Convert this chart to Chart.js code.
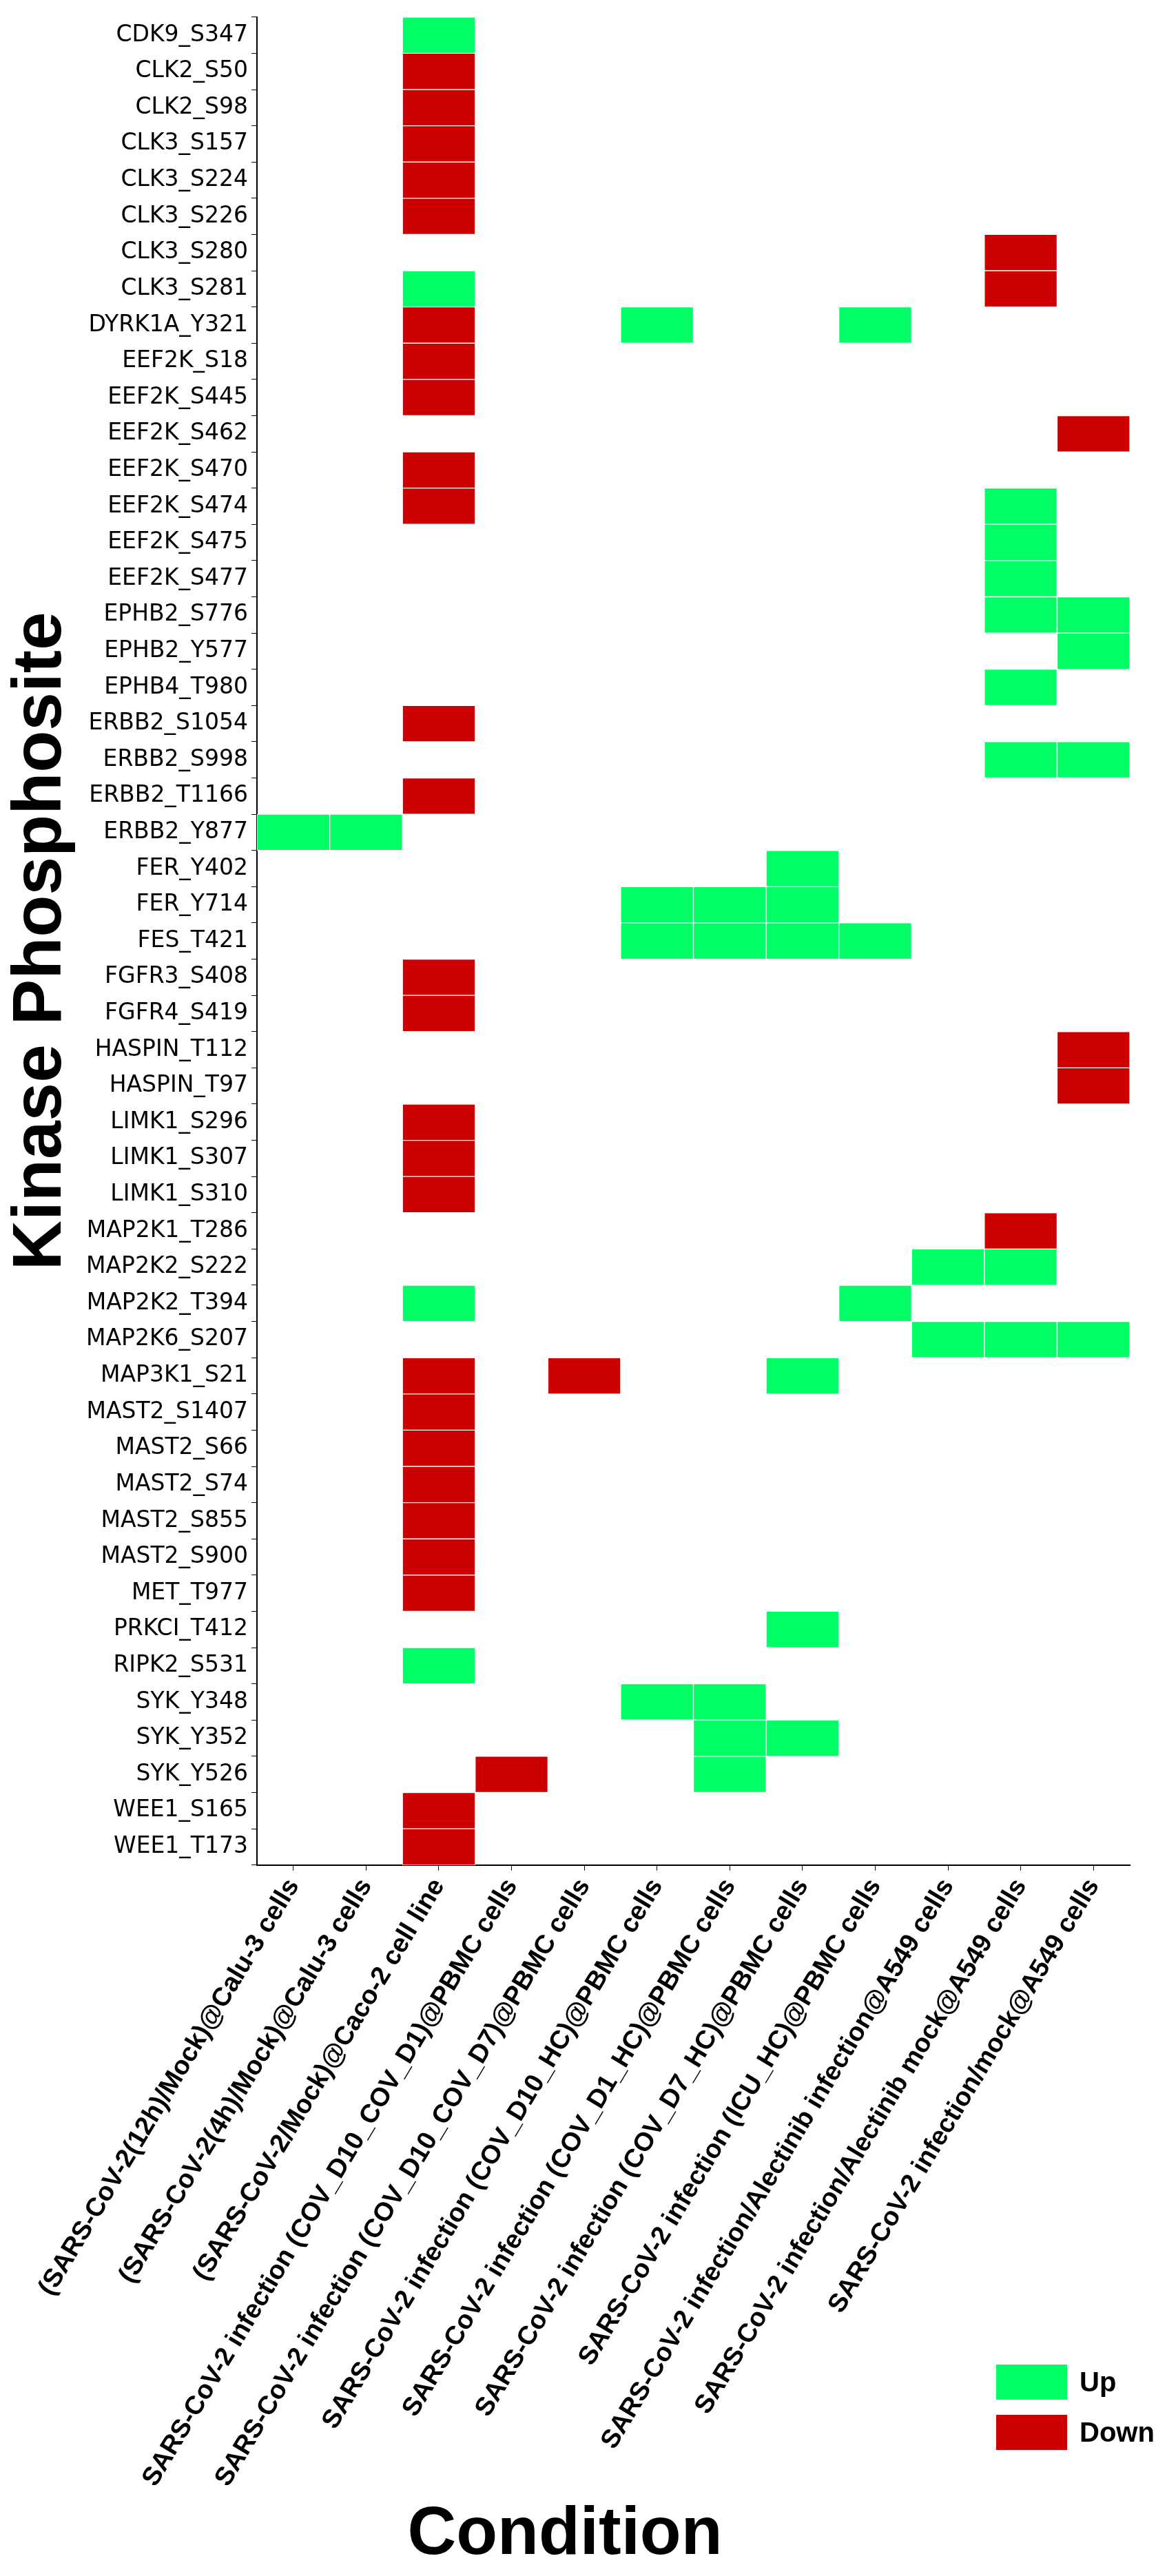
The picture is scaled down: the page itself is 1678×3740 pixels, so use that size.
<!DOCTYPE html>
<html>
<head>
<meta charset="utf-8">
<script src="https://cdn.jsdelivr.net/npm/chart.js@4/dist/chart.umd.min.js"></script>
<style>
  body { margin: 0; background: #fff; }
  #wrap { position: relative; width: 1678px; height: 3740px; }
  .leg { position: absolute; left: 1446px; width: 103px; height: 51px; }
  .legtxt { position: absolute; left: 1567px; font: bold 40px "Liberation Sans", Arial, sans-serif; }
</style>
</head>
<body>
<div id="wrap">
  <canvas id="heatmap" width="1678" height="3740"></canvas>
  <div class="leg" style="top:3433px;background:#00ff66"></div>
  <div class="legtxt" style="top:3436px">Up</div>
  <div class="leg" style="top:3506px;background:#cc0000"></div>
  <div class="legtxt" style="top:3509px">Down</div>
</div>
<script>
const heatmap = document.getElementById("heatmap");

const conditions = [
    "(SARS-CoV-2(12h)/Mock)@Calu-3 cells",
    "(SARS-CoV-2(4h)/Mock)@Calu-3 cells",
    "(SARS-CoV-2/Mock)@Caco-2 cell line",
    "SARS-CoV-2 infection (COV_D10_COV_D1)@PBMC cells",
    "SARS-CoV-2 infection (COV_D10_COV_D7)@PBMC cells",
    "SARS-CoV-2 infection (COV_D10_HC)@PBMC cells",
    "SARS-CoV-2 infection (COV_D1_HC)@PBMC cells",
    "SARS-CoV-2 infection (COV_D7_HC)@PBMC cells",
    "SARS-CoV-2 infection (ICU_HC)@PBMC cells",
    "SARS-CoV-2 infection/Alectinib infection@A549 cells",
    "SARS-CoV-2 infection/Alectinib mock@A549 cells",
    "SARS-CoV-2 infection/mock@A549 cells",
];

const sites = [
    "CDK9_S347", "CLK2_S50", "CLK2_S98", "CLK3_S157", "CLK3_S224", "CLK3_S226",
    "CLK3_S280", "CLK3_S281", "DYRK1A_Y321", "EEF2K_S18", "EEF2K_S445",
    "EEF2K_S462", "EEF2K_S470", "EEF2K_S474", "EEF2K_S475", "EEF2K_S477",
    "EPHB2_S776", "EPHB2_Y577", "EPHB4_T980", "ERBB2_S1054", "ERBB2_S998",
    "ERBB2_T1166", "ERBB2_Y877", "FER_Y402", "FER_Y714", "FES_T421",
    "FGFR3_S408", "FGFR4_S419", "HASPIN_T112", "HASPIN_T97", "LIMK1_S296",
    "LIMK1_S307", "LIMK1_S310", "MAP2K1_T286", "MAP2K2_S222", "MAP2K2_T394",
    "MAP2K6_S207", "MAP3K1_S21", "MAST2_S1407", "MAST2_S66", "MAST2_S74",
    "MAST2_S855", "MAST2_S900", "MET_T977", "PRKCI_T412", "RIPK2_S531",
    "SYK_Y348", "SYK_Y352", "SYK_Y526", "WEE1_S165", "WEE1_T173",
];

// [site, condition index]
const upCells = [
    ["CDK9_S347", 2], ["CLK3_S281", 2], ["DYRK1A_Y321", 5], ["DYRK1A_Y321", 8],
    ["EEF2K_S474", 10], ["EEF2K_S475", 10], ["EEF2K_S477", 10],
    ["EPHB2_S776", 10], ["EPHB2_S776", 11], ["EPHB2_Y577", 11], ["EPHB4_T980", 10],
    ["ERBB2_S998", 10], ["ERBB2_S998", 11], ["ERBB2_Y877", 0], ["ERBB2_Y877", 1],
    ["FER_Y402", 7], ["FER_Y714", 5], ["FER_Y714", 6], ["FER_Y714", 7],
    ["FES_T421", 5], ["FES_T421", 6], ["FES_T421", 7], ["FES_T421", 8],
    ["MAP2K2_S222", 9], ["MAP2K2_S222", 10], ["MAP2K2_T394", 2], ["MAP2K2_T394", 8],
    ["MAP2K6_S207", 9], ["MAP2K6_S207", 10], ["MAP2K6_S207", 11],
    ["MAP3K1_S21", 7], ["PRKCI_T412", 7], ["RIPK2_S531", 2],
    ["SYK_Y348", 5], ["SYK_Y348", 6], ["SYK_Y352", 6], ["SYK_Y352", 7], ["SYK_Y526", 6],
];

const downCells = [
    ["CLK2_S50", 2], ["CLK2_S98", 2], ["CLK3_S157", 2], ["CLK3_S224", 2], ["CLK3_S226", 2],
    ["CLK3_S280", 10], ["CLK3_S281", 10], ["DYRK1A_Y321", 2], ["EEF2K_S18", 2],
    ["EEF2K_S445", 2], ["EEF2K_S462", 11], ["EEF2K_S470", 2], ["EEF2K_S474", 2],
    ["ERBB2_S1054", 2], ["ERBB2_T1166", 2], ["FGFR3_S408", 2], ["FGFR4_S419", 2],
    ["HASPIN_T112", 11], ["HASPIN_T97", 11], ["LIMK1_S296", 2], ["LIMK1_S307", 2],
    ["LIMK1_S310", 2], ["MAP2K1_T286", 10], ["MAP3K1_S21", 2], ["MAP3K1_S21", 4],
    ["MAST2_S1407", 2], ["MAST2_S66", 2], ["MAST2_S74", 2], ["MAST2_S855", 2],
    ["MAST2_S900", 2], ["MET_T977", 2], ["SYK_Y526", 3], ["WEE1_S165", 2], ["WEE1_T173", 2],
];

const toBars = (cells) => cells.map(([s, c]) => ({ y: s, x: [c, c + 1] }));

const sans = '"Liberation Sans", Arial, sans-serif';

new Chart(heatmap, {
    type: "bar",
    data: {
        labels: sites,
        datasets: [
            {
                label: "Up",
                data: toBars(upCells),
                backgroundColor: "#00ff66",
                borderColor: "#ffffff",
                borderWidth: 1,
                borderSkipped: false,
                barPercentage: 1,
                categoryPercentage: 1,
                grouped: false,
            },
            {
                label: "Down",
                data: toBars(downCells),
                backgroundColor: "#cc0000",
                borderColor: "#ffffff",
                borderWidth: 1,
                borderSkipped: false,
                barPercentage: 1,
                categoryPercentage: 1,
                grouped: false,
            },
        ],
    },
    options: {
        responsive: false,
        animation: false,
        indexAxis: "y",
        layout: { padding: { top: 2, right: 38, bottom: 0, left: 0 } },
        plugins: {
            legend: { display: false },
            tooltip: { enabled: false },
            title: {
                display: true,
                position: "bottom",
                text: "Condition",
                color: "#000",
                font: { family: sans, size: 98, weight: "bold" },
                padding: { top: 0, bottom: 0 },
            },
        },
        scales: {
            y: {
                type: "category",
                offset: true,
                grid: { drawOnChartArea: false, tickLength: 8, color: "#000" },
                border: { color: "#000", width: 2 },
                ticks: { color: "#000", font: { family: '"DejaVu Sans", sans-serif', size: 33 }, padding: 5 },
                title: {
                    display: true,
                    text: "Kinase Phosphosite",
                    color: "#000",
                    font: { family: sans, size: 100, weight: "bold" },
                    padding: 0,
                },
            },
            x: {
                type: "linear",
                min: 0,
                max: conditions.length,
                afterBuildTicks: (axis) => {
                    axis.ticks = conditions.map((_, i) => ({ value: i + 0.5 }));
                },
                grid: { drawOnChartArea: false, tickLength: 8, color: "#000" },
                border: { color: "#000", width: 2 },
                ticks: {
                    color: "#000",
                    autoSkip: false,
                    minRotation: 59,
                    maxRotation: 59,
                    padding: 4,
                    font: { family: sans, size: 38, weight: "bold" },
                    callback: (v, i) => conditions[i],
                },
            },
        },
    },
});
</script>
</body>
</html>
